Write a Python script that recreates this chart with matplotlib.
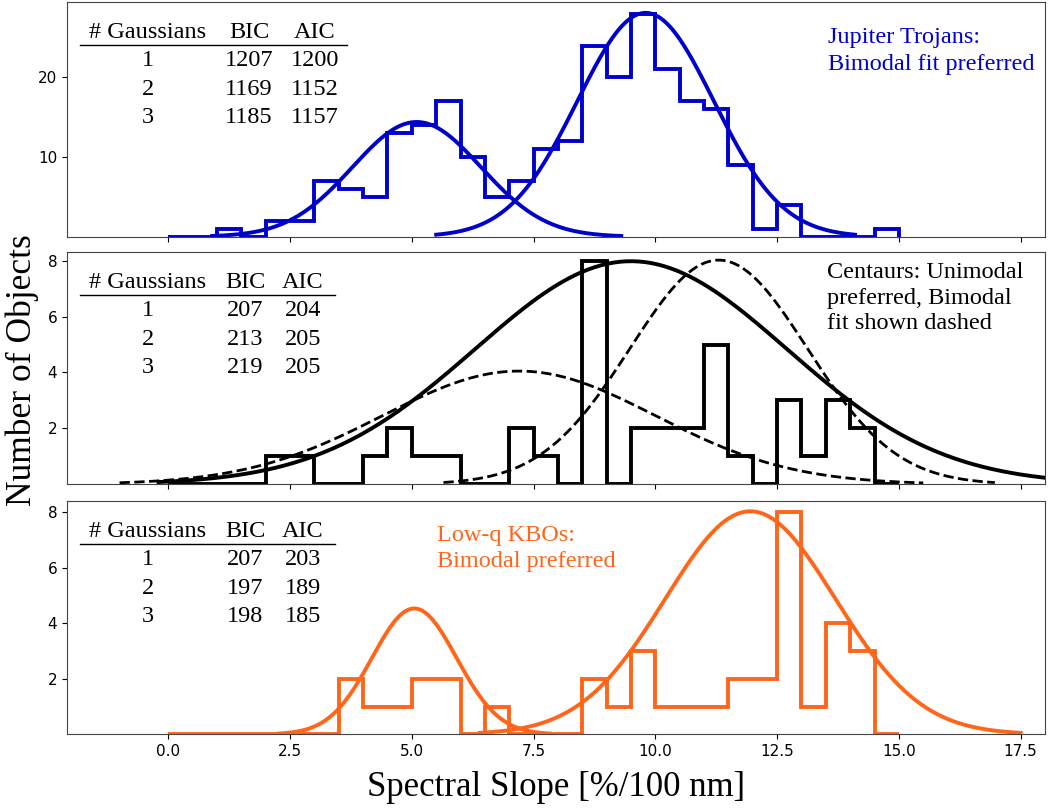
import numpy as np
import matplotlib
matplotlib.use("Agg")
import matplotlib.pyplot as plt

# --- data --------------------------------------------------------------------
bin_edges = np.arange(0.0, 15.01, 0.5)          # spectral slope bins [%/100 nm]

trojan_counts = [0, 0, 1, 0, 2, 2, 7, 6, 5, 13, 14, 17, 10, 5, 7,
                 11, 12, 24, 20, 28, 21, 17, 16, 9, 1, 4, 0, 0, 0, 1]
centaur_counts = [0, 0, 0, 0, 1, 1, 0, 0, 1, 2, 1, 1, 0, 0, 2,
                  1, 0, 8, 0, 2, 2, 2, 5, 1, 0, 3, 1, 3, 2, 0]
kbo_counts = [0, 0, 0, 0, 0, 0, 0, 2, 1, 1, 2, 2, 0, 1, 0,
              0, 0, 2, 1, 3, 1, 1, 1, 2, 2, 8, 1, 4, 3, 0]

# gaussian fit components: mean, sigma, peak height, plotted range
trojan_mean = [5.1, 9.8]
trojan_sigma = [1.32, 1.40]
trojan_peak = [14.4, 28.1]
trojan_lo = [0.9, 5.5]
trojan_hi = [9.3, 14.1]

centaur_uni_mean, centaur_uni_sigma, centaur_uni_peak = 9.5, 3.2, 7.98
centaur_uni_lo, centaur_uni_hi = -0.2, 19.2
centaur_bi_mean = [7.2, 11.3]
centaur_bi_sigma = [2.8, 1.82]
centaur_bi_peak = [4.05, 8.02]
centaur_bi_lo = [-1.0, 5.65]
centaur_bi_hi = [15.5, 16.97]

kbo_mean = [5.05, 11.95]
kbo_sigma = [0.87, 1.75]
kbo_peak = [4.53, 8.03]
kbo_lo = [2.26, 6.4]
kbo_hi = [7.84, 17.5]

# information criteria tables
n_gauss = [1, 2, 3]
trojan_bic = [1207, 1169, 1185]
trojan_aic = [1200, 1152, 1157]
centaur_bic = [207, 213, 219]
centaur_aic = [204, 205, 205]
kbo_bic = [207, 197, 198]
kbo_aic = [203, 189, 185]

BLUE = '#0000cc'
ORANGE = '#ff661a'
SERIF = 'Liberation Serif'


def gauss_curve(ax, mean, sigma, peak, lo, hi, **kw):
    x = np.linspace(lo, hi, 300)
    ax.plot(x, peak * np.exp(-0.5 * ((x - mean) / sigma) ** 2), **kw)


def px_text(ax, dx, dy, s, **kw):
    """Place text at a pixel offset from the axes' top-left corner."""
    ax.annotate(s, xy=(0, 1), xycoords='axes fraction', xytext=(dx, -dy),
                textcoords='offset pixels', family=SERIF, fontsize=17.5,
                annotation_clip=False, **kw)


def draw_table(ax, bic, aic, bic_x, aic_x, rule_end):
    px_text(ax, 81, 36, '# Gaussians', ha='center', va='baseline')
    px_text(ax, bic_x, 36, 'BIC', ha='center', va='baseline')
    px_text(ax, aic_x, 36, 'AIC', ha='center', va='baseline')
    w = ax.bbox.width
    h = ax.bbox.height
    ax.plot([13 / w, rule_end / w], [1 - 43 / h, 1 - 43 / h], color='k',
            lw=1.0, transform=ax.transAxes, clip_on=False)
    for i, (n, b, a) in enumerate(zip(n_gauss, bic, aic)):
        dy = 64.5 + 28.5 * i
        px_text(ax, 81, dy, str(n), ha='center', va='baseline')
        px_text(ax, bic_x, dy, str(b), ha='center', va='baseline')
        px_text(ax, aic_x, dy, str(a), ha='center', va='baseline')


fig = plt.figure(figsize=(10.48, 8.10), dpi=100)
left, width = 67 / 1048, 978 / 1048
ax_top = fig.add_axes([left, 1 - 236.7 / 810, width, 235.0 / 810])
ax_mid = fig.add_axes([left, 1 - 484.3 / 810, width, 232.6 / 810], sharex=ax_top)
ax_bot = fig.add_axes([left, 1 - 734.3 / 810, width, 233.3 / 810], sharex=ax_top)

# Jupiter Trojans
ax_top.stairs(trojan_counts, bin_edges, color=BLUE, lw=2.8)
for m, s, p, lo, hi in zip(trojan_mean, trojan_sigma, trojan_peak, trojan_lo, trojan_hi):
    gauss_curve(ax_top, m, s, p, lo, hi, color=BLUE, lw=2.8)
ax_top.set_ylim(0, 29.5)
ax_top.set_yticks([10, 20])
draw_table(ax_top, trojan_bic, trojan_aic, 182, 248, 280)
for dy, line in zip([41.5, 68], ['Jupiter Trojans:', 'Bimodal fit preferred']):
    px_text(ax_top, 761, dy, line, color=BLUE, ha='left', va='baseline')

# Centaurs
ax_mid.stairs(centaur_counts, bin_edges, color='k', lw=2.8)
gauss_curve(ax_mid, centaur_uni_mean, centaur_uni_sigma, centaur_uni_peak,
            centaur_uni_lo, centaur_uni_hi, color='k', lw=2.8)
for m, s, p, lo, hi in zip(centaur_bi_mean, centaur_bi_sigma, centaur_bi_peak,
                           centaur_bi_lo, centaur_bi_hi):
    gauss_curve(ax_mid, m, s, p, lo, hi, color='k', lw=2.0, ls='--')
ax_mid.set_ylim(0, 8.32)
ax_mid.set_yticks([2, 4, 6, 8])
draw_table(ax_mid, centaur_bic, centaur_aic, 178, 236, 268)
for dy, line in zip([26.5, 52, 77], ['Centaurs: Unimodal', 'preferred, Bimodal',
                                     'fit shown dashed']):
    px_text(ax_mid, 760, dy, line, color='k', ha='left', va='baseline')

# Low-q KBOs
ax_bot.stairs(kbo_counts, bin_edges, color=ORANGE, lw=2.8)
for m, s, p, lo, hi in zip(kbo_mean, kbo_sigma, kbo_peak, kbo_lo, kbo_hi):
    gauss_curve(ax_bot, m, s, p, lo, hi, color=ORANGE, lw=2.8)
ax_bot.set_ylim(0, 8.4)
ax_bot.set_yticks([2, 4, 6, 8])
draw_table(ax_bot, kbo_bic, kbo_aic, 178, 236, 268)
for dy, line in zip([40.5, 66.5], ['Low-q KBOs:', 'Bimodal preferred']):
    px_text(ax_bot, 370, dy, line, color=ORANGE, ha='left', va='baseline')

ax_top.set_xlim(-2.08, 18.0)
ax_top.set_xticks(np.arange(0, 17.6, 2.5))
for ax in (ax_top, ax_mid, ax_bot):
    ax.tick_params(labelsize=11)
    for sp in ax.spines.values():
        sp.set_color('#444444')
ax_top.tick_params(labelbottom=False)
ax_mid.tick_params(labelbottom=False)

fig.text(556 / 1048, 1 - 788 / 810, 'Spectral Slope [%/100 nm]', family=SERIF,
         fontsize=25, ha='center', va='center')
fig.text(22 / 1048, 1 - 370 / 810, 'Number of Objects', family=SERIF,
         fontsize=25.5, ha='center', va='center', rotation=90)

fig.savefig('out.png', dpi=100)
